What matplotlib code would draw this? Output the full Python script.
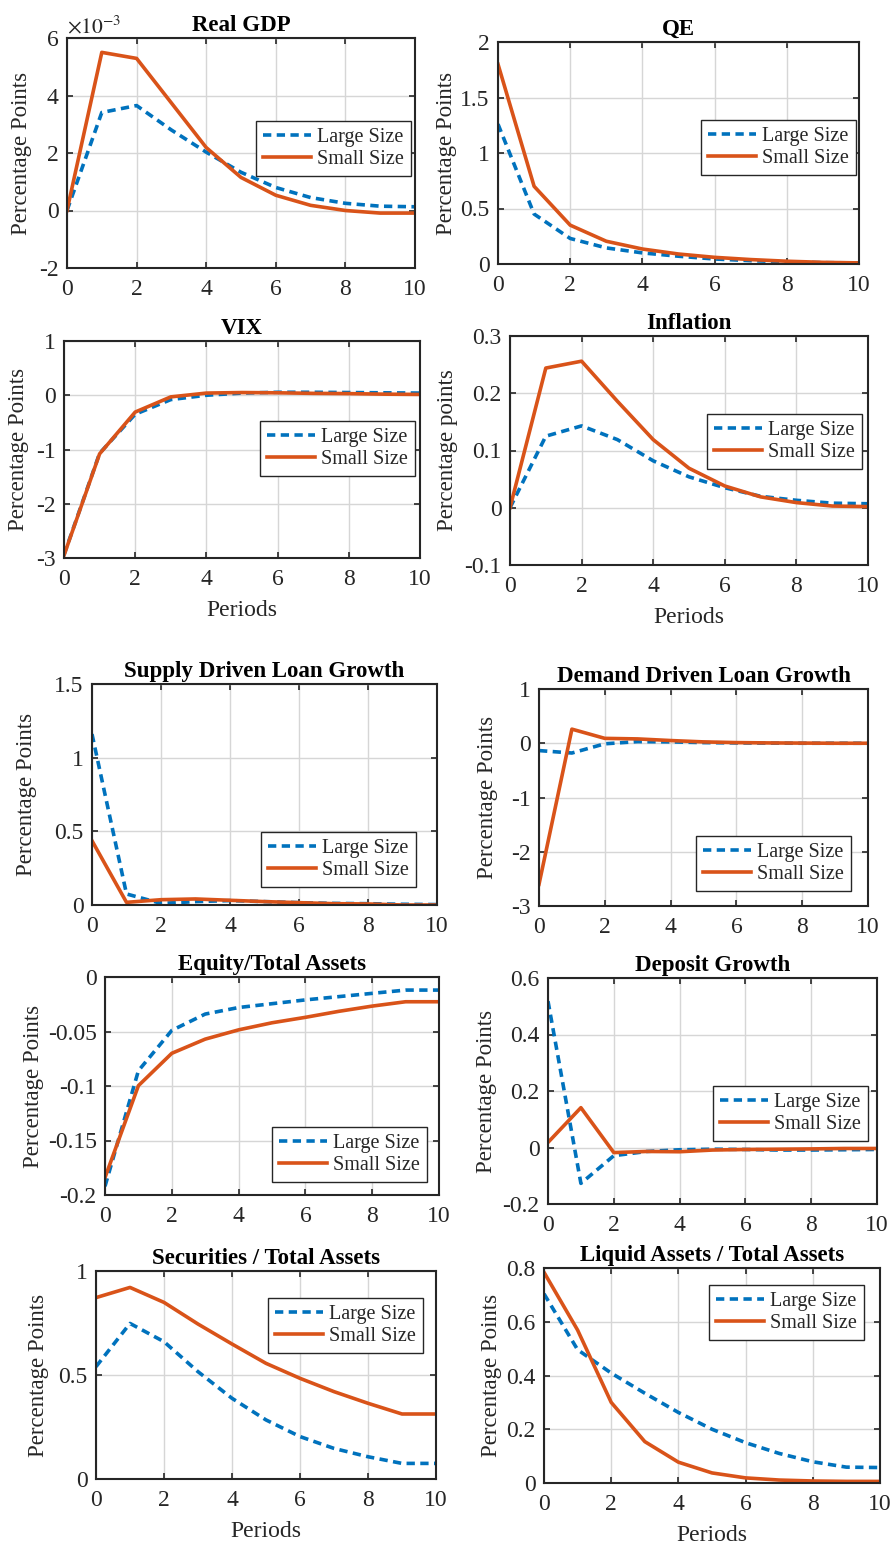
import matplotlib
matplotlib.use("Agg")
import matplotlib.pyplot as plt

plt.rcParams["font.family"] = ["Liberation Serif", "DejaVu Serif"]
plt.rcParams["mathtext.fontset"] = "stix"

periods = list(range(11))

# Real GDP, in units of 1e-3
gdp_large = [0, 3.41, 3.65, 2.8, 2.03, 1.33, 0.8, 0.45, 0.25, 0.15, 0.13]
gdp_small = [0, 5.5, 5.29, 3.74, 2.19, 1.15, 0.53, 0.18, 0.0, -0.09, -0.09]

qe_large = [1.26, 0.45, 0.23, 0.145, 0.10, 0.07, 0.045, 0.03, 0.02, 0.012, 0.01]
qe_small = [1.80, 0.70, 0.35, 0.205, 0.135, 0.09, 0.06, 0.04, 0.025, 0.015, 0.01]

vix_large = [-2.94, -1.07, -0.35, -0.08, 0.0, 0.04, 0.055, 0.055, 0.05, 0.045, 0.04]
vix_small = [-2.95, -1.08, -0.31, -0.03, 0.04, 0.05, 0.045, 0.035, 0.03, 0.02, 0.015]

infl_large = [0, 0.125, 0.143, 0.119, 0.082, 0.054, 0.035, 0.02, 0.013, 0.008, 0.007]
infl_small = [0, 0.244, 0.256, 0.186, 0.119, 0.069, 0.038, 0.019, 0.009, 0.003, 0.002]

supply_large = [1.16, 0.075, 0.011, 0.023, 0.03, 0.023, 0.016, 0.011, 0.009, 0.005, 0.003]
supply_small = [0.436, 0.018, 0.036, 0.041, 0.032, 0.023, 0.016, 0.009, 0.007, 0.0, 0.0]

demand_large = [-0.135, -0.18, -0.01, 0.03, 0.025, 0.012, 0.006, 0.002, 0.0, 0.0, 0.0]
demand_small = [-2.6, 0.26, 0.09, 0.08, 0.05, 0.025, 0.012, 0.006, 0.003, 0.0, 0.0]

equity_large = [-0.192, -0.086, -0.049, -0.034, -0.028, -0.0245, -0.021, -0.018, -0.015, -0.012, -0.012]
equity_small = [-0.184, -0.0997, -0.07, -0.057, -0.0485, -0.042, -0.037, -0.0315, -0.0267, -0.0227, -0.0227]

deposit_large = [0.518, -0.127, -0.029, -0.014, -0.008, -0.006, -0.007, -0.009, -0.009, -0.008, -0.007]
deposit_small = [0.018, 0.141, -0.018, -0.014, -0.015, -0.009, -0.007, -0.006, -0.005, -0.0035, -0.0035]

sec_large = [0.54, 0.748, 0.66, 0.516, 0.388, 0.284, 0.204, 0.147, 0.107, 0.075, 0.075]
sec_small = [0.872, 0.921, 0.849, 0.745, 0.649, 0.556, 0.484, 0.42, 0.364, 0.3125, 0.3125]

liq_large = [0.704, 0.496, 0.409, 0.334, 0.2625, 0.2, 0.15, 0.11, 0.079, 0.059, 0.0575]
liq_small = [0.784, 0.569, 0.30, 0.154, 0.0775, 0.0375, 0.019, 0.011, 0.0075, 0.006, 0.006]

W, H = 890, 1549
fig = plt.figure(figsize=(W / 100, H / 100), dpi=100)
fig.patch.set_facecolor("white")

# title, large, small, y limits, y ticks, ylabel, xlabel,
# axes box in pixels (left, top, right, bottom), legend anchor, ylabel x pixel
panels = [
    ("Real GDP", gdp_large, gdp_small, (-2, 6), [-2, 0, 2, 4, 6], "Percentage Points", None,
     (67, 38, 415, 268), (0.989, 0.639), 22),
    ("QE", qe_large, qe_small, (0, 2), [0, 0.5, 1, 1.5, 2], "Percentage Points", None,
     (498, 42, 859, 264), (0.992, 0.649), 446),
    ("VIX", vix_large, vix_small, (-3, 1), [-3, -2, -1, 0, 1], "Percentage Points", "Periods",
     (64, 341, 420, 558), (0.986, 0.631), 19),
    ("Inflation", infl_large, infl_small, (-0.1, 0.3), [-0.1, 0, 0.1, 0.2, 0.3], "Percentage points", "Periods",
     (510, 336, 868, 565), (0.983, 0.659), 447),
    ("Supply Driven Loan Growth", supply_large, supply_small, (0, 1.5), [0, 0.5, 1, 1.5], "Percentage Points", None,
     (92, 684, 437, 905), (0.939, 0.330), 27),
    ("Demand Driven Loan Growth", demand_large, demand_small, (-3, 1), [-3, -2, -1, 0, 1], "Percentage Points", None,
     (539, 689, 868, 906), (0.948, 0.323), 488),
    ("Equity/Total Assets", equity_large, equity_small, (-0.2, 0), [-0.2, -0.15, -0.1, -0.05, 0], "Percentage Points", None,
     (105, 977, 439, 1195), (0.964, 0.312), 34),
    ("Deposit Growth", deposit_large, deposit_small, (-0.2, 0.6), [-0.2, 0, 0.2, 0.4, 0.6], "Percentage Points", None,
     (548, 978, 877, 1204), (0.973, 0.522), 486),
    ("Securities / Total Assets", sec_large, sec_small, (0, 1), [0, 0.5, 1], "Percentage Points", "Periods",
     (96, 1271, 436, 1479), (0.962, 0.870), 39),
    ("Liquid Assets / Total Assets", liq_large, liq_small, (0, 0.8), [0, 0.2, 0.4, 0.6, 0.8], "Percentage Points", "Periods",
     (544, 1268, 880, 1483), (0.952, 0.921), 492),
]

blue = "#0072BD"
orange = "#D95319"
dark = "#262626"

for title, large, small, ylim, yticks, ylabel, xlabel, box, anchor, ylab_x in panels:
    l, t, r, b = box
    ax = fig.add_axes([l / W, 1 - b / H, (r - l) / W, (b - t) / H])
    ax.plot(periods, large, color=blue, lw=2.6, ls=(0, (2.3, 1.5)), label="Large Size")
    ax.plot(periods, small, color=orange, lw=2.6, label="Small Size")
    ax.set_xlim(0, 10)
    ax.set_ylim(*ylim)
    ax.set_xticks(range(0, 11, 2))
    ax.set_yticks(yticks)
    ax.set_yticklabels(["%g" % v for v in yticks])
    ax.grid(True, color="#d6d6d6", lw=1.0)
    ax.set_axisbelow(True)
    ax.tick_params(direction="in", top=True, right=True, length=4, width=1.2,
                   labelsize=17, colors=dark, pad=6)
    ax.tick_params(axis="x", pad=8)
    for s in ax.spines.values():
        s.set_color(dark)
        s.set_linewidth(1.5)
    ax.set_title(title, fontsize=16.5, fontweight="bold", pad=5)
    if xlabel:
        ax.set_xlabel(xlabel, fontsize=17, color=dark, labelpad=7)
    fig.text(ylab_x / W, 1 - (t + b) / 2 / H, ylabel, rotation=90, ha="center", va="center",
             fontsize=16.5, color=dark)
    leg = ax.legend(loc="upper right", bbox_to_anchor=anchor, borderaxespad=0, fontsize=14.5,
                    handlelength=2.4, handletextpad=0.3, labelspacing=0.12, borderpad=0.35,
                    fancybox=False, framealpha=1, edgecolor=dark)
    leg.get_frame().set_linewidth(1.0)
    for txt in leg.get_texts():
        txt.set_color(dark)
    if title == "Real GDP":
        ax.text(0.0, 1.0, r"$\times10^{-3}$", transform=ax.transAxes, ha="left", va="bottom",
                fontsize=15.5, color=dark)

fig.savefig("out.png", dpi=100)
